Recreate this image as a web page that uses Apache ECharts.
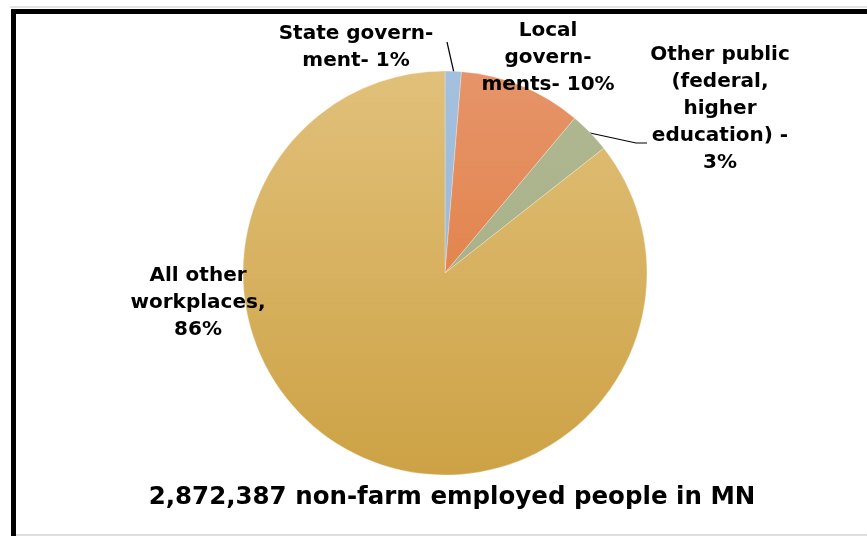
<!DOCTYPE html>
<html>
<head>
<meta charset="utf-8">
<style>
  html, body { margin: 0; padding: 0; background: #fff; }
  #chart { width: 867px; height: 536px; }
</style>
<script src="https://cdn.jsdelivr.net/npm/echarts@6/dist/echarts.min.js"></script>
</head>
<body>
<div id="chart"></div>
<script>
// Minnesota non-farm employment by workplace type (share of total)
const categories = [
  'State government',
  'Local governments',
  'Other public (federal, higher education)',
  'All other workplaces'
];
const shares = [1.3, 9.8, 3.3, 85.6];
const labelPrefixes = [
  'State govern-\nment- ',
  'Local\ngovern-\nments- ',
  'Other public\n(federal,\nhigher\neducation) -\n',
  'All other\nworkplaces,\n'
];
const totalEmployed = '2,872,387';
const chartTitle = totalEmployed + ' non-farm employed people in MN';

const FONT = 'DejaVu Sans, Verdana, sans-serif';

// vertical gradients (light top, darker bottom) per slice
const sliceColors = [
  ['#A3C1DE', '#93B3D4'],
  ['#E6946A', '#DF7632'],
  ['#B0B893', '#A3AC80'],
  ['#E1C07A', '#CDA245']
];

// label anchor points and leader lines
const labelPlacement = [
  { x: 356, y: 47, line: [[447, 42], [454, 73]] },
  { x: 548, y: 58, line: null },
  { x: 720, y: 109, line: [[590, 133], [636, 143], [647, 143]] },
  { x: 198, y: 303, line: null }
];

const chart = echarts.init(document.getElementById('chart'), null, { renderer: 'canvas' });

const pieData = categories.map((name, i) => ({
  name: name,
  value: shares[i],
  itemStyle: {
    color: {
      type: 'linear', x: 0, y: 71, x2: 0, y2: 475, global: true,
      colorStops: [
        { offset: 0, color: sliceColors[i][0] },
        { offset: 1, color: sliceColors[i][1] }
      ]
    }
  }
}));

chart.setOption({
  animation: false,
  backgroundColor: '#ffffff',
  title: {
    text: chartTitle,
    left: 447,
    top: 480,
    textAlign: 'center',
    textStyle: {
      fontFamily: FONT,
      fontWeight: 'bold',
      fontSize: 24.5,
      color: '#000'
    }
  },
  graphic: [
    { type: 'line', shape: { x1: 10, y1: 7, x2: 867, y2: 7 }, style: { stroke: '#c8c8c8', lineWidth: 1 } },
    { type: 'line', shape: { x1: 16, y1: 535, x2: 867, y2: 535 }, style: { stroke: '#bdbdbd', lineWidth: 1 } },
    { type: 'rect', shape: { x: 13.5, y: 11.5, width: 900, height: 600 }, style: { fill: 'none', stroke: '#000', lineWidth: 5 }, z: 10 }
  ],
  series: [{
    type: 'pie',
    center: [445, 273],
    radius: 202,
    startAngle: 90,
    clockwise: true,
    avoidLabelOverlap: false,
    itemStyle: { borderColor: 'rgba(255,255,255,0.5)', borderWidth: 0.5 },
    label: {
      show: true,
      position: 'outside',
      formatter: p => labelPrefixes[p.dataIndex] + Math.round(p.percent) + '%',
      fontFamily: FONT,
      fontWeight: 'bold',
      fontSize: 20,
      lineHeight: 27,
      color: '#000',
      align: 'center'
    },
    labelLine: {
      show: true,
      lineStyle: { color: '#000', width: 1.2 }
    },
    labelLayout: function (params) {
      const pl = labelPlacement[params.dataIndex];
      const res = {
        x: pl.x,
        y: pl.y,
        align: 'center',
        verticalAlign: 'middle',
        moveOverlap: false
      };
      if (pl.line) {
        res.labelLinePoints = pl.line;
      } else {
        res.labelLinePoints = [[pl.x, pl.y], [pl.x, pl.y], [pl.x, pl.y]];
      }
      return res;
    },
    data: pieData
  }]
});
</script>
</body>
</html>
